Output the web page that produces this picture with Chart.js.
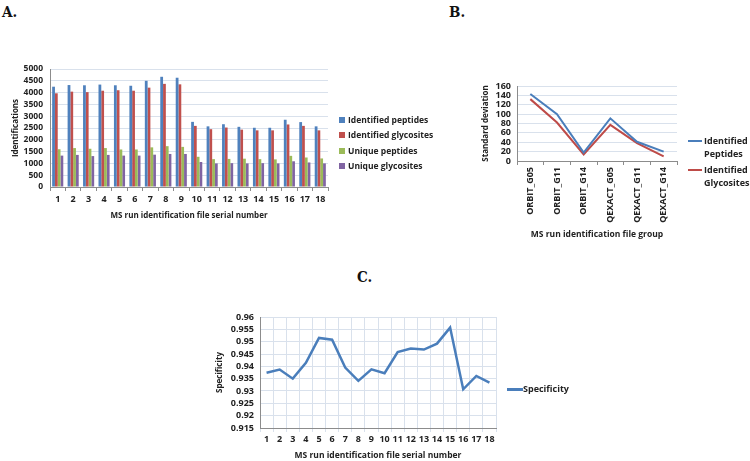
<!DOCTYPE html>
<html><head><meta charset="utf-8">
<script src="https://cdn.jsdelivr.net/npm/chart.js@4"></script>
<style>
body{margin:0;background:#fff;}
#wrap{position:relative;width:750px;height:461px;background:#fff;overflow:hidden;font-family:'Open Sans',sans-serif;}
canvas{position:absolute;}
.panel{position:absolute;font-family:'DejaVu Serif Condensed','DejaVu Serif',serif;font-weight:bold;font-size:15px;color:#111;line-height:16px;}
.leg{position:absolute;font-family:'Open Sans',sans-serif;font-weight:700;font-size:8.5px;color:#222;white-space:nowrap;line-height:12px;}
.sw{position:absolute;}
</style></head><body>
<div id="wrap">
  <div class="panel" style="left:2px;top:4px">A.</div>
  <div class="panel" style="left:449px;top:4px">B.</div>
  <div class="panel" style="left:357px;top:269px">C.</div>
  <canvas id="cA" width="340" height="180" style="left:0;top:50px"></canvas>
  <canvas id="cB" width="260" height="190" style="left:430px;top:60px"></canvas>
  <canvas id="cC" width="310" height="180" style="left:200px;top:290px"></canvas>
  <div id="legA"></div><div id="legB"></div><div id="legC"></div>
</div>
<script>
// ---- Data ----
const runLabels = ['1','2','3','4','5','6','7','8','9','10','11','12','13','14','15','16','17','18'];
const seriesA = ['Identified peptides','Identified glycosites','Unique peptides','Unique glycosites'];
const identifiedPeptides   = [4250,4320,4310,4340,4310,4290,4500,4670,4630,2760,2570,2660,2550,2510,2510,2850,2750,2570];
const identifiedGlycosites = [3970,4040,4020,4080,4100,4080,4210,4370,4350,2590,2450,2520,2430,2400,2400,2650,2590,2400];
const uniquePeptides       = [1600,1650,1620,1650,1590,1590,1680,1730,1700,1280,1180,1190,1200,1180,1170,1320,1250,1210];
const uniqueGlycosites     = [1330,1360,1310,1360,1330,1330,1370,1400,1400,1060,1000,1010,1000,1010,1000,1090,1040,1000];

const groupLabels = ['ORBIT_G05','ORBIT_G11','ORBIT_G14','QEXACT_G05','QEXACT_G11','QEXACT_G14'];
const seriesB = [['Identified','Peptides'],['Identified','Glycosites']];
const sdPeptides   = [143,100,18,91,41,20];
const sdGlycosites = [132,82,14,77,38,10];

const seriesC = 'Specificity';
const specificity = [0.9374,0.9387,0.9350,0.9414,0.9515,0.9508,0.9395,0.9341,0.9388,0.9372,0.9458,0.9472,0.9468,0.9492,0.9557,0.9307,0.9361,0.9334];

// ---- Styles ----
const colorsA = ['#4f81bd','#c0504d','#9bbb59','#8064a2'];
const colorsB = ['#4a7ebb','#be4b48'];
const lineC = '#4a7ebb';
const font = {family:'Open Sans', weight:'bold', size:8.5};
const fontL = {family:'Open Sans', weight:'bold', size:9};
const fontT = {family:'Open Sans', weight:'bold', size:8};
const txt = '#222';
const grid = '#d9e1ec';
const axis = '#8c8c8c';
Chart.defaults.animation = false;
const plain = v => String(parseFloat(Number(v).toFixed(3)));

// ---- Chart A ----
new Chart(document.getElementById('cA'), {
  type:'bar',
  data:{labels:runLabels, datasets:[identifiedPeptides,identifiedGlycosites,uniquePeptides,uniqueGlycosites].map((d,i)=>({label:seriesA[i],data:d,backgroundColor:colorsA[i],categoryPercentage:0.72,barPercentage:1}))},
  options:{responsive:false, events:[],
    layout:{padding:{left:0,top:19,right:12,bottom:0}},
    plugins:{legend:{display:false},tooltip:{enabled:false}},
    scales:{
      x:{grid:{drawOnChartArea:false,drawTicks:true,tickLength:4,color:axis},border:{color:axis},
         ticks:{font:fontL,color:txt,padding:3,maxRotation:0,autoSkip:false},
         title:{display:true,text:'MS run identification file serial number',font:fontT,color:txt,padding:{top:0,bottom:9}},
         afterFit(s){s.height=43;}},
      y:{min:0,max:5000,ticks:{stepSize:500,autoSkip:false,font,color:txt,padding:7,callback:plain},grid:{color:grid,drawTicks:false},border:{color:axis},
         title:{display:true,text:'Identifications',font:fontT,color:txt,padding:{top:11,bottom:0}},
         afterFit(s){s.width=50;}}
    }}
});

// ---- Chart B ----
new Chart(document.getElementById('cB'), {
  type:'line',
  data:{labels:groupLabels, datasets:[sdPeptides,sdGlycosites].map((d,i)=>({label:seriesB[i].join(' '),data:d,borderColor:colorsB[i],borderWidth:2,pointRadius:0,tension:0,fill:false}))},
  options:{responsive:false, events:[],
    layout:{padding:{left:0,top:26,right:13,bottom:0}},
    plugins:{legend:{display:false},tooltip:{enabled:false}},
    scales:{
      x:{offset:true,grid:{offset:true,drawOnChartArea:false,drawTicks:true,tickLength:4,color:axis},border:{color:axis},
         ticks:{font:fontL,color:txt,padding:2,minRotation:90,maxRotation:90,autoSkip:false},
         title:{display:true,text:'MS run identification file group',font:{...fontT,size:8.5},color:txt,padding:{top:0,bottom:10}},
         afterFit(s){s.height=89;}},
      y:{min:0,max:160,ticks:{stepSize:20,autoSkip:false,font:fontL,color:txt,padding:6,callback:plain},grid:{color:grid,drawTicks:false},border:{color:axis},
         title:{display:true,text:'Standard deviation',font:fontT,color:txt,padding:{top:51,bottom:0}},
         afterFit(s){s.width=87;}}
    }}
});

// ---- Chart C ----
new Chart(document.getElementById('cC'), {
  type:'line',
  data:{labels:runLabels, datasets:[{label:seriesC,data:specificity,borderColor:lineC,borderWidth:2.5,pointRadius:0,tension:0,fill:false}]},
  options:{responsive:false, events:[],
    layout:{padding:{left:0,top:27,right:14,bottom:0}},
    plugins:{legend:{display:false},tooltip:{enabled:false}},
    scales:{
      x:{offset:true,grid:{offset:true,color:grid,drawTicks:true,tickLength:4},border:{color:axis},
         ticks:{font:fontL,color:txt,padding:2,maxRotation:0,autoSkip:false},
         title:{display:true,text:'MS run identification file serial number',font:{...fontT,size:8.5},color:txt,padding:{top:0,bottom:9}},
         afterFit(s){s.height=42;}},
      y:{min:0.915,max:0.96,ticks:{stepSize:0.005,autoSkip:false,font:fontL,color:txt,padding:6,callback:plain},
         grid:{color:grid,drawTicks:false},border:{color:axis},
         title:{display:true,text:'Specificity',font:fontT,color:txt,padding:{top:15,bottom:0}},
         afterFit(s){s.width=60;}}
    }}
});

// ---- Legends (HTML) ----
(function(){
  const la=document.getElementById('legA');
  const ys=[119.5,135,150.5,166];
  seriesA.forEach((n,i)=>{
    la.insertAdjacentHTML('beforeend',`<div class="sw" style="left:339px;top:${ys[i]-3}px;width:6px;height:6px;background:${colorsA[i]}"></div><div class="leg" style="left:348px;top:${ys[i]-6}px">${n}</div>`);
  });
  const lb=document.getElementById('legB');
  const yb=[141,170];
  seriesB.forEach((n,i)=>{
    lb.insertAdjacentHTML('beforeend',`<div class="sw" style="left:688px;top:${yb[i]-1}px;width:14px;height:2px;background:${colorsB[i]}"></div><div class="leg" style="left:704px;top:${yb[i]-6}px;font-size:9px;line-height:12.5px">${n.join('<br>')}</div>`);
  });
  const lc=document.getElementById('legC');
  lc.insertAdjacentHTML('beforeend',`<div class="sw" style="left:507px;top:388px;width:16px;height:2.5px;background:${lineC}"></div><div class="leg" style="left:523px;top:383px;font-size:9px">${seriesC}</div>`);
})();
</script>
</body></html>
